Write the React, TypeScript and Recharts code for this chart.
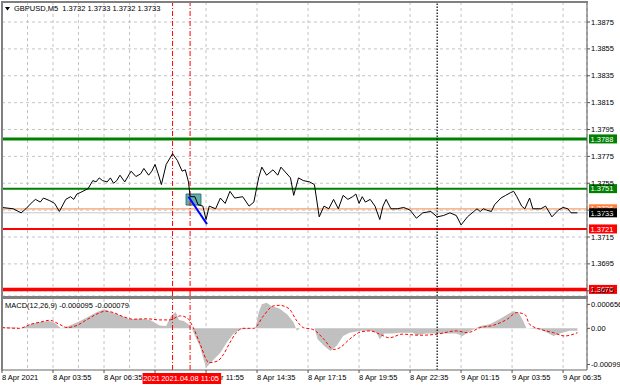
import React from 'react'
import {
  ComposedChart,
  Line,
  Area,
  XAxis,
  YAxis,
  CartesianGrid,
  ReferenceLine,
  ReferenceArea,
} from 'recharts'

const FONT = '"Liberation Sans", Arial, sans-serif'

// M5 bars, bar 0 = 8 Apr 01:15
const timeTicks = [0, 32, 64, 96, 128, 160, 192, 224, 256, 288, 320, 352]
const timeLabels = [
  '8 Apr 2021', '8 Apr 03:55', '8 Apr 06:35', '8 Apr 09:15', '8 Apr 11:55', '8 Apr 14:35',
  '8 Apr 17:15', '8 Apr 19:55', '8 Apr 22:35', '9 Apr 01:15', '9 Apr 03:55', '9 Apr 06:35',
]
const gridBars = [16, 32, 48, 64, 80, 96, 112, 128, 144, 160, 176, 192, 208, 224, 240, 256, 272, 288, 304, 320, 336, 352]
const priceTicks = [1.3875, 1.3855, 1.3835, 1.3815, 1.3795, 1.3775, 1.3755, 1.3735, 1.3715, 1.3695, 1.3675]
const macdTicks = [0.000656, 0, -0.00099]
const macdTickLabels = ['0.000656', '0.00', '-0.000990']

// [bar, close]
const priceSeries: [number, number][] = [
  [0, 1.3737], [7, 1.3736], [12, 1.3733], [15, 1.3736], [19, 1.3741], [21, 1.3743], [24, 1.3741],
  [26, 1.3744], [30, 1.3742], [33, 1.374], [36, 1.3734], [40, 1.3743], [43, 1.3745], [45, 1.3743],
  [47, 1.3747], [49, 1.3748], [54, 1.3751], [57, 1.3757], [59, 1.3756], [61, 1.3759], [63, 1.3757],
  [66, 1.3756], [68, 1.3759], [70, 1.3755], [72, 1.3757], [74, 1.3761], [77, 1.3756], [81, 1.3764],
  [84, 1.376], [87, 1.3762], [89, 1.3766], [92, 1.3761], [94, 1.3764], [96, 1.3769], [98, 1.3762],
  [100, 1.3754], [103, 1.3769], [107, 1.3777], [110, 1.3772], [113, 1.3764], [115, 1.3765], [117, 1.3756],
  [118, 1.3745], [121, 1.3745], [123, 1.3739], [126, 1.3738], [128, 1.3728], [130, 1.3738], [134, 1.3736],
  [137, 1.3744], [140, 1.374], [143, 1.3749], [146, 1.3744], [151, 1.3745], [155, 1.3738], [158, 1.3741],
  [161, 1.3759], [163, 1.3767], [166, 1.3761], [170, 1.3765], [173, 1.3761], [175, 1.3767], [181, 1.3759],
  [183, 1.3746], [186, 1.3759], [189, 1.3757], [193, 1.3756], [196, 1.3754], [199, 1.373], [202, 1.3738],
  [205, 1.3736], [208, 1.3743], [211, 1.3736], [214, 1.3746], [217, 1.3743], [220, 1.3745], [222, 1.3747],
  [224, 1.374], [226, 1.3745], [228, 1.3741], [231, 1.3743], [234, 1.3738], [237, 1.3728], [239, 1.3738],
  [241, 1.3743], [244, 1.3736], [248, 1.3736], [252, 1.3737], [256, 1.3735], [260, 1.3729], [264, 1.3733],
  [269, 1.3734], [273, 1.373], [277, 1.3731], [281, 1.3733], [285, 1.3731], [288, 1.3724], [292, 1.373],
  [296, 1.3734], [298, 1.3736], [300, 1.3734], [302, 1.3736], [304, 1.3735], [307, 1.3734], [309, 1.3739],
  [313, 1.3744], [316, 1.3746], [319, 1.3748], [321, 1.3749], [323, 1.3745], [326, 1.3738], [328, 1.3736],
  [331, 1.3744], [333, 1.3736], [338, 1.3736], [341, 1.3738], [345, 1.373], [349, 1.3735], [352, 1.3737],
  [355, 1.3736], [357, 1.3733], [361, 1.3733],
]

// [bar, value]
const macdHist: [number, number][] = [
  [0, 0.00002], [9, 0.00002], [12, 0], [18, 0.00011], [24, 0.00017], [30, 0.0002], [33, 0.00015],
  [37, 0], [41, 0.00005], [47, 0.00016], [53, 0.00029], [59, 0.00043], [64, 0.00052], [68, 0.00045],
  [74, 0.00036], [80, 0.00025], [87, 0.00026], [93, 0.00023], [99, 0.00008], [103, 0.00006], [106, 0.00034],
  [109, 0.00045], [111, 0.00023], [114, 0.0002], [117, 0.00011], [119, 0], [122, -0.0003], [124, -0.00048],
  [128, -0.00108], [133, -0.00085], [137, -0.00067], [141, -0.00039], [145, -0.00016], [149, -0.00003],
  [159, 0], [161, 0.00043], [163, 0.00066], [166, 0.0007], [169, 0.00061], [174, 0.00054], [179, 0.00038],
  [183, 0.00016], [185, -0.00007], [187, 0], [196, 0], [198, -0.0003], [202, -0.00048], [206, -0.00062],
  [210, -0.00048], [214, -0.00021], [218, -0.00012], [225, -0.00007], [231, -0.00007], [235, -0.00012],
  [237, -0.0003], [240, -0.00014], [245, -0.00014], [250, -0.00012], [258, -0.00012], [260, -0.00019],
  [266, -0.00014], [285, -0.00014], [289, -0.00021], [294, -0.00007], [300, 0.00006], [306, 0.00011],
  [312, 0.00025], [317, 0.00038], [321, 0.00047], [324, 0.00043], [327, 0.0002], [329, 0], [338, -0.00003],
  [346, -0.00021], [350, -0.00014], [356, -0.00007], [361, -0.00007],
]

const macdSignal: [number, number][] = [
  [0, 0.00002], [11, 0], [18, 0.00011], [24, 0.00017], [30, 0.00022], [36, 0.00011], [41, 0.00002],
  [47, 0.00008], [53, 0.00023], [59, 0.00038], [65, 0.00047], [70, 0.00043], [76, 0.00032], [82, 0.00025],
  [91, 0.00026], [99, 0.00023], [105, 0.00023], [112, 0.00034], [116, 0.00029], [120, 0.00002], [124, -0.0004],
  [130, -0.00094], [135, -0.0009], [139, -0.00071], [143, -0.00039], [147, -0.00012], [151, 0], [158, 0],
  [164, 0.00034], [170, 0.00061], [174, 0.00063], [180, 0.00054], [185, 0.0002], [189, 0.00002], [195, -0.00003],
  [202, -0.0003], [208, -0.00058], [212, -0.00053], [218, -0.0003], [225, -0.0001], [231, -0.00007],
  [237, -0.00016], [243, -0.00026], [251, -0.00016], [262, -0.00019], [273, -0.00016], [285, -0.00007],
  [292, -0.00012], [300, 0.00002], [308, 0.00008], [317, 0.00025], [323, 0.00043], [328, 0.00038],
  [331, 0.00011], [338, -0.00003], [346, -0.00012], [353, -0.00021], [361, -0.00012],
]

// chart objects
const levels = [
  { price: 1.3788, color: '#008000', width: 3 },
  { price: 1.3751, color: '#008000', width: 2 },
  { price: 1.3736, color: '#f4a070', width: 1.2, tag: '#ff8040' },
  { price: 1.3733, color: '#c8c8c8', width: 1, tag: '#000000' },
  { price: 1.3721, color: '#ff0000', width: 2 },
  { price: 1.3676, color: '#ff0000', width: 3.5 },
]
const markerBars = [107, 118]
const markerTimes = ['2021.04.08 10:10', '2021.04.08 11:05']
const daySeparatorBar = 273
const zoneBars = [115.5, 124.8]
const zonePrices = [1.37388, 1.3747]
const trendBars = [117, 128.6]
const trendPrices = [1.3745, 1.37246]

const X_DOMAIN = [0, 367]
const PLOT_W = 585
const PX_PER_BAR = PLOT_W / (X_DOMAIN[1] - X_DOMAIN[0])
const TAG_HALF = 30

const levelTag = (text: string, bg: string) => (props: any) => {
  const vb = props.viewBox
  const x = vb.x + vb.width + 2
  const y = vb.y
  return (
    <g>
      <rect x={x} y={y - 4.5} width={28} height={9} fill={bg} />
      <text x={x + 1.5} y={y + 2.7} fontSize={7.5} fontFamily={FONT} fill="#fff">
        {text}
      </text>
    </g>
  )
}

const timeTag = (text: string) => (props: any) => {
  const vb = props.viewBox
  const y = vb.y + vb.height + 3
  return (
    <g>
      <rect x={vb.x - TAG_HALF} y={y} width={TAG_HALF * 2 + 1} height={11} fill="#ff0000" />
      <text x={vb.x} y={y + 8.2} fontSize={7.5} fontFamily={FONT} fill="#fff" textAnchor="middle">
        {text}
      </text>
    </g>
  )
}

const PriceTick = (props: any) => (
  <text x={props.x} y={props.y + 2.6} fontSize={7.5} fontFamily={FONT} fill="#000">
    {Number(props.payload.value).toFixed(4)}
  </text>
)

const MacdTick = (props: any) => (
  <text x={props.x} y={props.y + 2.6} fontSize={7.5} fontFamily={FONT} fill="#000">
    {macdTickLabels[props.index]}
  </text>
)

// time labels under the red time tags are hidden where the tags cover them
const TimeTick = (props: any) => {
  const v = props.payload.value
  const i = timeTicks.indexOf(v)
  const tagLeft = props.x + (markerBars[0] - v) * PX_PER_BAR - TAG_HALF
  const tagRight = props.x + (markerBars[1] - v) * PX_PER_BAR + TAG_HALF + 1
  const labelEnd = props.x + 37
  if (props.x >= tagLeft && labelEnd <= tagRight) return null
  const covered = props.x < tagRight && labelEnd > tagLeft
  const clipId = `time-clip-${v}`
  return (
    <g>
      {covered && (
        <defs>
          <clipPath id={clipId}>
            <rect x={tagRight} y={props.y - 4} width={80} height={20} />
          </clipPath>
        </defs>
      )}
      <text
        x={props.x}
        y={props.y + 6}
        fontSize={7.5}
        fontFamily={FONT}
        fill="#000"
        clipPath={covered ? `url(#${clipId})` : undefined}
      >
        {timeLabels[i]}
      </text>
    </g>
  )
}

export default function App() {
  const priceRows = priceSeries.map(([bar, close]) => ({ bar, close }))

  const byBar = new Map<number, { bar: number; hist?: number; signal?: number }>()
  macdHist.forEach(([bar, v]) => byBar.set(bar, { ...(byBar.get(bar) || { bar }), hist: v }))
  macdSignal.forEach(([bar, v]) => byBar.set(bar, { ...(byBar.get(bar) || { bar }), signal: v }))
  const macdRows = Array.from(byBar.values()).sort((a, b) => a.bar - b.bar)

  return (
    <div
      style={{
        position: 'absolute',
        left: 0,
        top: 0,
        width: 620,
        height: 388,
        background: '#fff',
        overflow: 'hidden',
        fontFamily: FONT,
      }}
    >
      <div style={{ position: 'absolute', left: 0, top: 0 }}>
        <ComposedChart width={620} height={296} data={priceRows} margin={{ top: 2, right: 0, bottom: 0, left: 2 }}>
          <CartesianGrid stroke="#c4c4c4" strokeDasharray="3 3" />
          <XAxis dataKey="bar" type="number" domain={X_DOMAIN} ticks={gridBars} hide allowDataOverflow />
          <YAxis
            orientation="right"
            width={33}
            domain={[1.36711, 1.38899]}
            ticks={priceTicks}
            allowDataOverflow
            interval={0}
            tick={<PriceTick />}
            tickSize={3}
            tickMargin={1}
            axisLine={{ stroke: '#555' }}
            tickLine={{ stroke: '#555' }}
          />
          {levels.map((l) => (
            <ReferenceLine
              key={l.price}
              y={l.price}
              stroke={l.color}
              strokeWidth={l.width}
              label={levelTag(l.price.toFixed(4), l.tag || l.color)}
            />
          ))}
          {markerBars.map((b) => (
            <ReferenceLine key={b} x={b} stroke="#ff0000" strokeDasharray="5 2 1 2" />
          ))}
          <ReferenceLine x={daySeparatorBar} stroke="#000" strokeWidth={1.2} strokeDasharray="1.5 1.5" />
          <ReferenceArea
            x1={zoneBars[0]}
            x2={zoneBars[1]}
            y1={zonePrices[0]}
            y2={zonePrices[1]}
            fill="#3f9898"
            fillOpacity={0.8}
            stroke="#2a7575"
          />
          <ReferenceLine
            segment={[
              { x: trendBars[0], y: trendPrices[0] },
              { x: trendBars[1], y: trendPrices[1] },
            ]}
            stroke="#0000ff"
            strokeWidth={2}
          />
          <Line
            dataKey="close"
            type="linear"
            stroke="#000"
            strokeWidth={1}
            dot={false}
            isAnimationActive={false}
          />
        </ComposedChart>
      </div>

      <div style={{ position: 'absolute', left: 0, top: 296 }}>
        <ComposedChart width={620} height={92} data={macdRows} margin={{ top: 3, right: 0, bottom: 0, left: 2 }}>
          <XAxis xAxisId="grid" dataKey="bar" type="number" domain={X_DOMAIN} ticks={gridBars} hide allowDataOverflow />
          <CartesianGrid xAxisId="grid" horizontal={false} stroke="#c4c4c4" strokeDasharray="3 3" />
          <XAxis
            dataKey="bar"
            type="number"
            domain={X_DOMAIN}
            ticks={timeTicks}
            interval={0}
            allowDataOverflow
            height={18}
            tick={<TimeTick />}
            tickSize={3}
            tickMargin={1}
            axisLine={{ stroke: '#666' }}
            tickLine={{ stroke: '#555' }}
          />
          <YAxis
            orientation="right"
            width={33}
            domain={[-0.001142, 0.000803]}
            ticks={macdTicks}
            allowDataOverflow
            interval={0}
            tick={<MacdTick />}
            tickSize={3}
            tickMargin={1}
            axisLine={{ stroke: '#555' }}
            tickLine={{ stroke: '#555' }}
          />
          <Area
            dataKey="hist"
            type="linear"
            baseValue={0}
            stroke="none"
            fill="#c0c0c0"
            fillOpacity={1}
            connectNulls
            isAnimationActive={false}
          />
          <Line
            dataKey="signal"
            type="monotone"
            stroke="#ff0000"
            strokeWidth={1}
            strokeDasharray="3 2"
            dot={false}
            connectNulls
            isAnimationActive={false}
          />
          <ReferenceLine x={daySeparatorBar} stroke="#000" strokeWidth={1.2} strokeDasharray="1.5 1.5" />
          {markerBars.map((b, k) => (
            <ReferenceLine key={b} x={b} stroke="#ff0000" strokeDasharray="5 2 1 2" label={timeTag(markerTimes[k])} />
          ))}
        </ComposedChart>
      </div>

      {/* window frame */}
      <div style={{ position: 'absolute', left: 1, top: 1, width: 587, height: 2, background: '#808080' }} />
      <div style={{ position: 'absolute', left: 1, top: 1, width: 1.5, height: 370, background: '#808080' }} />
      <div style={{ position: 'absolute', left: 1, top: 296, width: 587, height: 3, background: '#808080' }} />

      <svg width={620} height={388} style={{ position: 'absolute', left: 0, top: 0, pointerEvents: 'none' }}>
        <polygon points="5,7 10,7 7.5,10.5" fill="#000" />
        <text x={14} y={11} fontSize={7.5} fontFamily={FONT} fill="#000">
          GBPUSD,M5{'\u00a0\u00a0'}1.3732 1.3733 1.3732 1.3733
        </text>
        <text x={5} y={308} fontSize={7.5} fontFamily={FONT} fill="#000">
          MACD(12,26,9) -0.000095 -0.000079
        </text>
      </svg>
    </div>
  )
}
